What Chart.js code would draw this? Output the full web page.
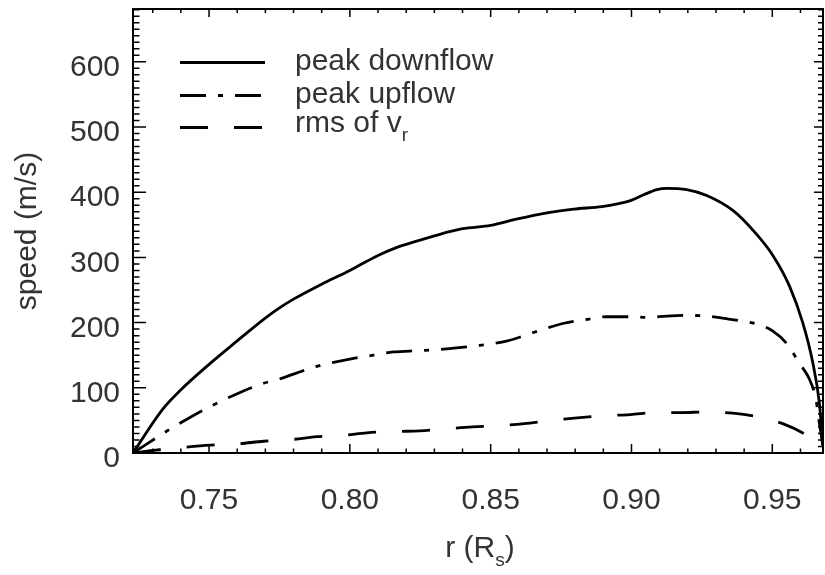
<!DOCTYPE html>
<html>
<head>
<meta charset="utf-8">
<script src="https://cdn.jsdelivr.net/npm/chart.js@4.4.0/dist/chart.umd.min.js"></script>
<style>
  html, body { margin: 0; padding: 0; background: #fff; }
  #wrap { width: 825px; height: 575px; }
</style>
</head>
<body>
<div id="wrap"><canvas id="chart" width="825" height="575"></canvas></div>
<script>
// peak downflow (solid)
const downR = [0.723, 0.7335, 0.74, 0.75, 0.76, 0.7694, 0.7741, 0.78, 0.79, 0.80, 0.81, 0.8165, 0.82, 0.83, 0.84,
  0.85, 0.8595, 0.8695, 0.8795, 0.8895, 0.895, 0.8996, 0.9043, 0.909, 0.9125, 0.9196, 0.9267, 0.936, 0.9443,
  0.9502, 0.9561, 0.9608, 0.9644, 0.9667, 0.968];
const downV = [0, 67, 97, 136, 172, 205, 220, 236, 259, 280, 303, 315, 320, 333, 344,
  349, 359, 368, 374, 378, 382, 387, 396, 404, 406, 404, 395, 372, 336,
  303, 256, 200, 138, 77, 10];

// peak upflow (dash-dot)
const upR = [0.723, 0.7359, 0.7418, 0.7494, 0.76, 0.7694, 0.7747, 0.78, 0.7883, 0.80, 0.8083, 0.8154, 0.8248,
  0.8354, 0.8442, 0.856, 0.8619, 0.8695, 0.876, 0.883, 0.8913, 0.8996, 0.9054, 0.9125, 0.9196, 0.9267,
  0.9337, 0.9384, 0.9443, 0.9502, 0.9549, 0.9596, 0.9632, 0.9655, 0.9667, 0.968];
const upV = [0, 36, 51, 69, 91, 107, 113, 121, 133, 144, 150, 155, 157,
  160, 164, 172, 180, 191, 199, 204, 209, 209, 208, 210, 211, 210,
  206, 203, 198, 187, 169, 138, 113, 82, 46, 10];

// rms of v_r (dashed)
const rmsR = [0.723, 0.7323, 0.7418, 0.7506, 0.76, 0.7694, 0.78, 0.7883, 0.7977, 0.806, 0.8165, 0.8248, 0.8342,
  0.8436, 0.853, 0.8619, 0.8713, 0.8807, 0.8901, 0.8996, 0.909, 0.9172, 0.9267, 0.936, 0.9455, 0.9537, 0.962, 0.968];
const rmsV = [0, 5, 9, 12, 14, 18, 21, 25, 27, 31, 33, 34, 37,
  40, 42, 45, 50, 54, 57, 59, 62, 62, 63, 61, 55, 45, 28, 10];

const seriesLabels = ['peak downflow', 'peak upflow', 'rms of v_r'];
const xTitle = 'r (R_s)';
const yTitle = 'speed (m/s)';

const FONT = '"Liberation Sans", Arial, Helvetica, sans-serif';
const FS = 30;
const INK = '#000';
const TEXT = '#333';

function pts(rs, vs) {
  return rs.map((r, i) => ({ x: r, y: vs[i] }));
}

// text with one-char subscripts written as "_x"
function drawRich(ctx, str, x, y, size, align) {
  const parts = str.split(/_(.)/);
  const sub = Math.round(size * 0.62);
  const widths = parts.map((p, i) => {
    ctx.font = `${i % 2 ? sub : size}px ${FONT}`;
    return ctx.measureText(p).width;
  });
  const total = widths.reduce((a, b) => a + b, 0);
  let cx = align === 'center' ? x - total / 2 : x;
  ctx.textAlign = 'left';
  ctx.textBaseline = 'alphabetic';
  parts.forEach((p, i) => {
    ctx.font = `${i % 2 ? sub : size}px ${FONT}`;
    ctx.fillText(p, cx, i % 2 ? y + size * 0.3 : y);
    cx += widths[i];
  });
}

const frame = {
  id: 'frame',
  afterDatasetsDraw(chart) {
    const { ctx, chartArea: a, scales: { x, y } } = chart;
    ctx.save();
    ctx.strokeStyle = INK;
    ctx.setLineDash([]);
    ctx.lineWidth = 2;
    ctx.strokeRect(a.left, a.top, a.right - a.left, a.bottom - a.top);

    // inward ticks on all four sides
    ctx.lineWidth = 1.5;
    ctx.beginPath();
    for (let k = 73; k <= 96; k++) {
      const px = x.getPixelForValue(k / 100);
      const major = k % 5 === 0;
      ctx.moveTo(px, a.bottom); ctx.lineTo(px, a.bottom - (major ? 9 : 4.5));
      ctx.moveTo(px, a.top); ctx.lineTo(px, a.top + (major ? 8 : 4));
    }
    for (let k = 0; k <= 68; k++) {
      const py = y.getPixelForValue(k * 10);
      const major = k % 10 === 0;
      ctx.moveTo(a.left, py); ctx.lineTo(a.left + (major ? 13 : 6.5), py);
      ctx.moveTo(a.right, py); ctx.lineTo(a.right - (major ? 9 : 5), py);
    }
    ctx.stroke();

    // legend
    const rows = [62.5, 95.5, 127.5];
    ctx.fillStyle = TEXT;
    chart.data.datasets.forEach((ds, i) => {
      ctx.strokeStyle = INK;
      ctx.lineWidth = ds.borderWidth;
      ctx.setLineDash(ds.borderDash || []);
      ctx.beginPath();
      ctx.moveTo(180, rows[i]);
      ctx.lineTo(265, rows[i]);
      ctx.stroke();
      const hasSub = ds.label.includes('_');
      drawRich(ctx, ds.label, 295, rows[i] + (hasSub ? 4 : 7), FS, 'left');
    });
    ctx.setLineDash([]);

    // axis titles
    drawRich(ctx, xTitle, 480, 557, FS, 'center');
    ctx.translate(28, (a.top + a.bottom) / 2);
    ctx.rotate(-Math.PI / 2);
    ctx.font = `${FS}px ${FONT}`;
    ctx.textAlign = 'center';
    ctx.textBaseline = 'middle';
    ctx.fillText(yTitle, 0, 0);
    ctx.restore();
  }
};

new Chart(document.getElementById('chart'), {
  type: 'line',
  data: {
    datasets: [
      { label: seriesLabels[0], data: pts(downR, downV), borderDash: [], borderWidth: 2.8 },
      { label: seriesLabels[1], data: pts(upR, upV), borderDash: [26, 12, 5, 12], borderWidth: 2.8 },
      { label: seriesLabels[2], data: pts(rmsR, rmsV), borderDash: [28, 26], borderWidth: 2.8 }
    ]
  },
  options: {
    responsive: false,
    animation: false,
    layout: { padding: { top: 9, right: 2, left: 0, bottom: 0 } },
    plugins: { legend: { display: false }, tooltip: { enabled: false } },
    elements: {
      point: { radius: 0 },
      line: { borderColor: INK, fill: false, cubicInterpolationMode: 'monotone', borderCapStyle: 'butt' }
    },
    scales: {
      x: {
        type: 'linear', min: 0.723, max: 0.968,
        grid: { display: false, drawTicks: false }, border: { display: false },
        ticks: {
          stepSize: 0.05, includeBounds: false, autoSkip: false, maxRotation: 0, padding: 30,
          color: TEXT, font: { family: FONT, size: FS },
          callback: v => v.toFixed(2)
        },
        afterFit: s => { s.height = 122; s.paddingLeft = 0; s.paddingRight = 0; }
      },
      y: {
        min: 0, max: 681,
        grid: { display: false, drawTicks: false }, border: { display: false },
        ticks: {
          stepSize: 100, includeBounds: false, padding: 13, labelOffset: 6,
          color: TEXT, font: { family: FONT, size: FS },
          callback: v => String(v)
        },
        afterFit: s => { s.width = 133; s.paddingTop = 0; s.paddingBottom = 0; }
      }
    }
  },
  plugins: [frame]
});
</script>
</body>
</html>
